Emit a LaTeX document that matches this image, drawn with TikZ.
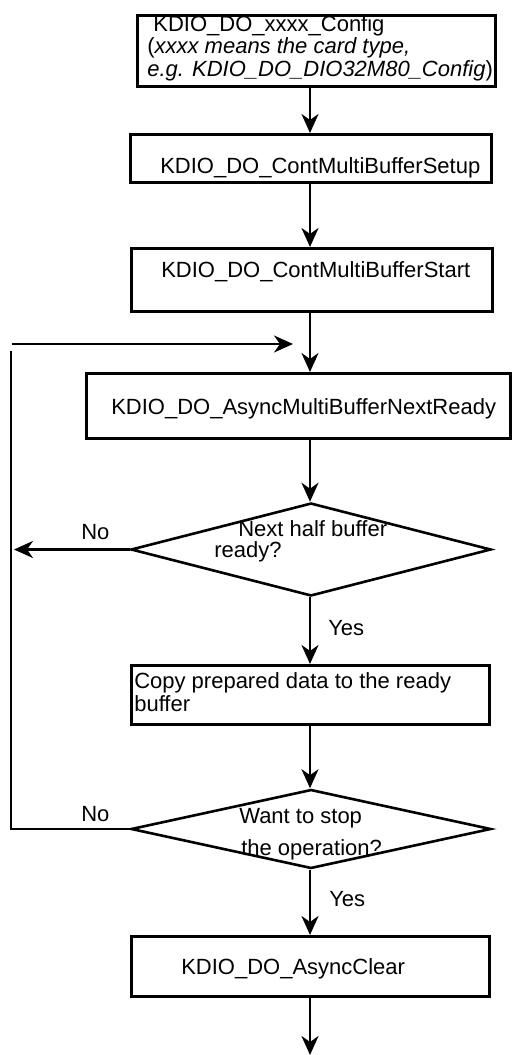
\documentclass[tikz,border=0pt]{standalone}
\usepackage{fontspec}
\setmainfont{Liberation Sans}
\usetikzlibrary{shapes.geometric, arrows.meta}

\begin{document}
\begin{tikzpicture}[
    x=1pt, y=-1pt, line width=2.6pt,
    >={Stealth[length=19pt, width=17pt, inset=6pt]},
    every node/.style={font=\fontsize{22}{22.5}\selectfont},
    stepbox/.style={draw, rectangle, inner sep=0pt, anchor=north west},
    decision/.style={draw, diamond, inner sep=0pt, minimum width=360pt},
    steptext/.style={inner sep=0pt, anchor=base west, align=left}
]
\useasboundingbox (0,0) rectangle (532,1055);

    % Process boxes
    \node[stepbox, minimum width=358pt, minimum height=71pt] (cfg) at (136,14) {};
    \node[stepbox, minimum width=361pt, minimum height=48pt] (setup) at (129,133) {};
    \node[stepbox, minimum width=361pt, minimum height=63pt] (start) at (130,247) {};
    \node[stepbox, minimum width=424pt, minimum height=65pt] (ready) at (85,372) {};
    \node[stepbox, minimum width=358pt, minimum height=59pt] (copy) at (130,664) {};
    \node[stepbox, minimum width=358pt, minimum height=60pt] (clear) at (130,935) {};

    % Decisions
    \node[decision, minimum height=93pt] (half) at (311,549.5) {};
    \node[decision, minimum height=79pt] (stop) at (311,829) {};

    % Texts (base = last line)
    \node[steptext] (cfg text) at (146,76) {\ KDIO\_DO\_xxxx\_Config\\(\textit{xxxx means the card type,}\\\textit{e.g. KDIO\_DO\_DIO32M80\_Config})};
    \node[steptext] (setup text) at (159,173) {KDIO\_DO\_ContMultiBufferSetup};
    \node[steptext] (start text) at (160,277) {KDIO\_DO\_ContMultiBufferStart};
    \node[steptext] (ready text) at (110,414) {KDIO\_DO\_AsyncMultiBufferNextReady};
    \node[steptext] (half q1) at (237,536) {Next half buffer};
    \node[steptext] (half q2) at (213,557) {ready?};
    \node[steptext] (copy text) at (133,711) {Copy prepared data to the ready\\buffer};
    \node[steptext] (stop q1) at (238,823) {Want to stop};
    \node[steptext] (stop q2) at (240,855) {the operation?};
    \node[steptext] (clear text) at (180,974) {KDIO\_DO\_AsyncClear};
    \node[steptext] (no1) at (80,539) {No};
    \node[steptext] (no2) at (80,821) {No};
    \node[steptext] (yes1) at (327,635) {Yes};
    \node[steptext] (yes2) at (328,906) {Yes};

    % Helper points
    \coordinate (spine) at (310,0);
    \coordinate (loop in) at (12,344);
    \coordinate (loop tip) at (293,344);
    \coordinate (loop up) at (11,351);
    \coordinate (no tip) at (14,549.5);
    \coordinate (end) at (310,1055);

    % Main flow
    \draw[->] (cfg.south -| spine) -- (setup.north -| spine);
    \draw[->] (setup.south -| spine) -- (start.north -| spine);
    \draw[->] (start.south -| spine) -- (ready.north -| spine);
    \draw[->] (ready.south -| spine) -- (half.north -| spine);
    \draw[->] (half.south -| spine) -- (copy.north -| spine);
    \draw[->] (copy.south -| spine) -- (stop.north -| spine);
    \draw[->] (stop.south -| spine) -- (clear.north -| spine);
    \draw[->] (clear.south -| spine) -- (end);

    % Loop back
    \draw[->] (half.west) -- (no tip);
    \draw[line width=2pt] (stop.west) -- (stop.west -| loop up) -- (loop up);
    \draw[->] (loop in) -- (loop tip);

\end{tikzpicture}
\end{document}
